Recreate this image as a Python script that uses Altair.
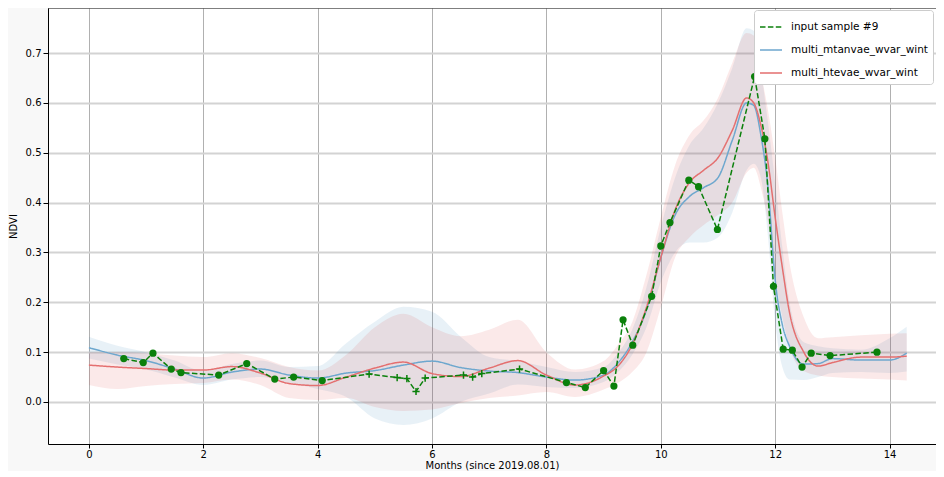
import altair as alt
import pandas as pd

# ---------------- data ----------------
S_IN = "input sample #9"
S_MT = "multi_mtanvae_wvar_wint"
S_HT = "multi_htevae_wvar_wint"

months = [0, 0.5, 1, 1.5, 2, 2.5, 3, 3.5, 4, 4.5, 5, 5.5, 6, 6.5, 7, 7.5, 8, 8.5, 9,
          9.25, 9.5, 9.75, 10, 10.25, 10.5, 10.75, 11, 11.25, 11.5, 11.625, 11.75,
          11.875, 12, 12.125, 12.25, 12.5, 12.75, 13, 13.5, 14, 14.3]

mtan_mean = [0.109, 0.094, 0.083, 0.066, 0.048, 0.060, 0.066, 0.054, 0.048, 0.058, 0.063,
             0.074, 0.082, 0.069, 0.062, 0.059, 0.050, 0.044, 0.054,
             0.078, 0.120, 0.185, 0.290, 0.375, 0.412, 0.430, 0.450, 0.525, 0.600, 0.595,
             0.535, 0.430, 0.245, 0.155, 0.112, 0.076, 0.077, 0.087, 0.084, 0.084, 0.098]
mtan_lo = [0.087, 0.075, 0.065, 0.049, 0.034, 0.045, 0.050, 0.038, 0.026, 0.010, -0.033,
           -0.046, -0.033, 0.000, 0.017, 0.035, 0.030, 0.028, 0.040,
           0.060, 0.095, 0.150, 0.240, 0.300, 0.320, 0.320, 0.330, 0.380, 0.465, 0.478,
           0.450, 0.330, 0.160, 0.070, 0.045, 0.044, 0.050, 0.058, 0.060, 0.058, 0.061]
mtan_hi = [0.131, 0.113, 0.100, 0.083, 0.062, 0.076, 0.083, 0.070, 0.072, 0.118, 0.161,
           0.191, 0.181, 0.131, 0.090, 0.082, 0.070, 0.060, 0.070,
           0.098, 0.145, 0.230, 0.350, 0.450, 0.515, 0.550, 0.600, 0.670, 0.750, 0.745,
           0.665, 0.560, 0.440, 0.310, 0.200, 0.120, 0.112, 0.108, 0.105, 0.128, 0.151]

hte_mean = [0.074, 0.070, 0.067, 0.064, 0.064, 0.071, 0.058, 0.037, 0.033, 0.050, 0.068,
            0.080, 0.057, 0.051, 0.068, 0.083, 0.054, 0.034, 0.052,
            0.072, 0.115, 0.190, 0.290, 0.385, 0.440, 0.465, 0.490, 0.545, 0.610, 0.600,
            0.555, 0.480, 0.370, 0.270, 0.180, 0.100, 0.072, 0.079, 0.090, 0.090, 0.092]
hte_lo = [0.034, 0.026, 0.032, 0.036, 0.038, 0.045, 0.034, 0.008, 0.004, 0.008, -0.010,
          -0.018, -0.015, -0.002, 0.008, 0.013, 0.020, 0.010, 0.025,
          0.038, 0.060, 0.100, 0.190, 0.290, 0.330, 0.355, 0.375, 0.400, 0.460, 0.470,
          0.430, 0.360, 0.250, 0.170, 0.110, 0.062, 0.053, 0.050, 0.047, 0.045, 0.043]
hte_hi = [0.100, 0.100, 0.098, 0.093, 0.090, 0.098, 0.088, 0.070, 0.063, 0.095, 0.150,
          0.177, 0.150, 0.132, 0.145, 0.165, 0.100, 0.065, 0.082,
          0.115, 0.160, 0.255, 0.370, 0.475, 0.535, 0.565, 0.610, 0.680, 0.740, 0.735,
          0.660, 0.585, 0.490, 0.380, 0.280, 0.170, 0.128, 0.130, 0.134, 0.137, 0.138]

inp_x = [0.61, 0.95, 1.12, 1.44, 1.61, 2.27, 2.76, 3.25, 3.58, 4.08,
         4.90, 5.39, 5.56, 5.72, 5.88, 6.55, 6.71, 6.87, 7.53,
         8.35, 8.68, 9.00, 9.18, 9.34, 9.51, 9.84, 10.00, 10.16, 10.49, 10.66, 10.99,
         11.64, 11.82, 11.97, 12.14, 12.30, 12.47, 12.63, 12.96, 13.78]
inp_y = [0.087, 0.079, 0.098, 0.066, 0.059, 0.054, 0.077, 0.046, 0.050, 0.043,
         0.056, 0.049, 0.047, 0.021, 0.048, 0.054, 0.050, 0.057, 0.066,
         0.039, 0.029, 0.063, 0.032, 0.165, 0.114, 0.212, 0.313, 0.360, 0.445, 0.432, 0.346,
         0.653, 0.528, 0.232, 0.106, 0.104, 0.070, 0.098, 0.093, 0.100]
inp_marker = ["o"] * 10 + ["+"] * 9 + ["o"] * 21

x_ticks = [0, 2, 4, 6, 8, 10, 12, 14]
y_ticks = [0.0, 0.1, 0.2, 0.3, 0.4, 0.5, 0.6, 0.7]

series_names = [S_IN, S_MT, S_HT]
series_colors = ["#0b800b", "#6da7ce", "#e46f6f"]
series_dash = [[5.5, 2.4], [1, 0], [1, 0]]

# ---------------- tables ----------------
mt_band = pd.DataFrame({"x": months, "lo": mtan_lo, "hi": mtan_hi})
ht_band = pd.DataFrame({"x": months, "lo": hte_lo, "hi": hte_hi})
model_lines = pd.concat([
    pd.DataFrame({"x": months, "y": mtan_mean, "series": S_MT}),
    pd.DataFrame({"x": months, "y": hte_mean, "series": S_HT}),
])
inp = pd.DataFrame({"x": inp_x, "y": inp_y, "marker": inp_marker, "series": S_IN})

X = alt.X("x:Q", scale=alt.Scale(domain=[-0.715, 14.812], nice=False, zero=False),
          axis=alt.Axis(values=x_ticks, format="d", title="Months (since 2019.08.01)",
                        gridColor="#b0b0b0", gridWidth=1, titlePadding=1, labelPadding=1,
                        tickSize=4))
Y_AX = alt.Axis(values=y_ticks, format=".1f", title="NDVI",
                gridColor="#d3d3d3", gridWidth=1.8, titlePadding=7, labelPadding=2)
Y_SC = alt.Scale(domain=[-0.0843, 0.7904], nice=False, zero=False)

color_enc = alt.Color("series:N", scale=alt.Scale(domain=series_names, range=series_colors),
                      legend=alt.Legend(title=None))
dash_enc = alt.StrokeDash("series:N", scale=alt.Scale(domain=series_names, range=series_dash),
                          legend=alt.Legend(title=None))

band_mt = alt.Chart(mt_band).mark_area(interpolate="monotone", color="#1f77b4", opacity=0.1).encode(
    x=X, y=alt.Y("lo:Q", scale=Y_SC, axis=Y_AX), y2="hi:Q")
band_ht = alt.Chart(ht_band).mark_area(interpolate="monotone", color="#d62728", opacity=0.1).encode(
    x=X, y=alt.Y("lo:Q", scale=Y_SC, axis=Y_AX), y2="hi:Q")

lines = alt.Chart(model_lines).mark_line(interpolate="monotone", strokeWidth=1.5).encode(
    x=X, y=alt.Y("y:Q", scale=Y_SC, axis=Y_AX), color=color_enc, strokeDash=dash_enc,
    detail="series:N")

inp_line = alt.Chart(inp).mark_line(strokeWidth=1.5).encode(
    x=X, y=alt.Y("y:Q", scale=Y_SC, axis=Y_AX), color=color_enc, strokeDash=dash_enc)

inp_dots = alt.Chart(inp).transform_filter(alt.datum.marker == "o").mark_circle(
    size=52, opacity=1, color="#0b800b").encode(x=X, y=alt.Y("y:Q", scale=Y_SC, axis=Y_AX))

inp_plus = alt.Chart(inp).transform_filter(alt.datum.marker == "+").mark_point(
    shape="M-1,0L1,0M0,-1L0,1", size=52, filled=False, strokeWidth=1.5, color="#0b800b",
    opacity=1).encode(x=X, y=alt.Y("y:Q", scale=Y_SC, axis=Y_AX))

# top frame line of the axes box
top_frame = alt.Chart(pd.DataFrame({"k": [0]})).mark_rule(color="black", strokeWidth=1).encode(
    y=alt.value(0))

chart = alt.layer(band_mt, band_ht, lines, inp_line, inp_dots, inp_plus, top_frame).properties(
    width=888, height=436,
    autosize=alt.AutoSizeParams(type="none"),
    padding={"left": 40, "top": 0, "right": 0, "bottom": 27},
    background="#f8f8f8",
).configure_view(
    fill="white", strokeWidth=0
).configure_axis(
    labelFont="DejaVu Sans", titleFont="DejaVu Sans", labelFontSize=10, titleFontSize=10,
    titleFontWeight="normal", labelColor="black", titleColor="black",
    tickColor="black", tickSize=5, tickWidth=1, domain=True, domainColor="black",
    domainWidth=1, grid=True,
).configure_legend(
    orient="none", legendX=706, legendY=2, fillColor="white", strokeColor="#cccccc",
    cornerRadius=3, padding=5, labelFont="DejaVu Sans", labelFontSize=10.5,
    labelColor="black", symbolType="stroke", symbolSize=484, symbolStrokeWidth=1.5,
    labelOffset=8, rowPadding=5,
)

chart.save("out.html", embed_options={"renderer": "svg", "actions": False})
